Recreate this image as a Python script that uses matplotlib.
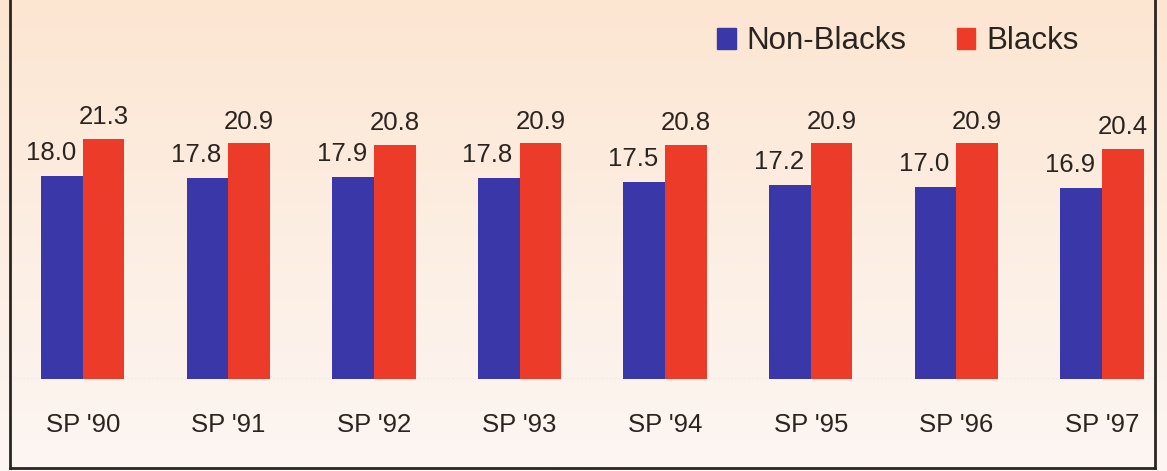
import numpy as np
import matplotlib.pyplot as plt
from matplotlib.lines import Line2D
from matplotlib.patches import Patch

# data
years = ["SP '90", "SP '91", "SP '92", "SP '93", "SP '94", "SP '95", "SP '96", "SP '97"]
non_blacks = [18.0, 17.8, 17.9, 17.8, 17.5, 17.2, 17.0, 16.9]
blacks = [21.3, 20.9, 20.8, 20.9, 20.8, 20.9, 20.9, 20.4]

blue = '#3a37a8'
red = '#ec3b28'
ink = '#2a2420'

plt.rcParams['font.family'] = ['Liberation Sans', 'DejaVu Sans']

W, H = 1167, 471
fig = plt.figure(figsize=(W / 100, H / 100), dpi=100)

# peach background, fading lighter toward the bottom
bg = fig.add_axes([0, 0, 1, 1])
top = np.array([253, 230, 210]) / 255
bot = np.array([252, 246, 243]) / 255
t = np.linspace(0, 1, 256)[:, None]
grad = top * (1 - t[..., None]) + bot * t[..., None]
bg.imshow(np.repeat(grad, 2, axis=1), aspect='auto', extent=[0, 1, 0, 1])
bg.axis('off')

# main axes: baseline at y=378.5px, 11.25 px per unit
base = 378.5
ax = fig.add_axes([10 / W, (H - base) / H, 1145 / W, base / H])
ax.patch.set_alpha(0)
x = np.arange(len(years))
w = 0.286
ax.bar(x - w / 2, non_blacks, w, color=blue, label='Non-Blacks')
ax.bar(x + w / 2, blacks, w, color=red, label='Blacks')
ax.set_xlim((10 - 82.7) / 145.6, (1155 - 82.7) / 145.6)
ax.set_ylim(0, base / 11.25)

for i in range(len(years)):
    ax.annotate(f'{non_blacks[i]:.1f}', (x[i], non_blacks[i]), xytext=(-5, 8),
                textcoords='offset points', ha='right', va='bottom',
                fontsize=18.5, color=ink)
    ax.annotate(f'{blacks[i]:.1f}', (x[i] + w / 2, blacks[i]), xytext=(0, 7),
                textcoords='offset points', ha='center', va='bottom',
                fontsize=18.5, color=ink)

ax.axhline(0, color='#c8c0bc', lw=1, ls=(0, (1, 2)), zorder=0)
ax.set_xticks(x)
ax.set_xticklabels(years, fontsize=18.5, color=ink)
ax.tick_params(axis='x', length=0, pad=25)
ax.set_yticks([])
for s in ax.spines.values():
    s.set_visible(False)

handles = [Patch(color=blue), Patch(color=red)]
ax.legend(handles, ['Non-Blacks', 'Blacks'], loc='upper right',
          bbox_to_anchor=(0.958, 1.005), ncol=2, frameon=False, fontsize=22.5,
          handlelength=0.6, handleheight=0.65, handletextpad=0.35,
          columnspacing=1.6, labelcolor=ink)

# outer frame: left, bottom, right
frame = dict(color='#2a2622', lw=2, transform=fig.transFigure)
fig.add_artist(Line2D([10 / W, 10 / W], [1, 3 / H], **frame))
fig.add_artist(Line2D([10 / W, 1155 / W], [3 / H, 3 / H], **frame))
fig.add_artist(Line2D([1155 / W, 1155 / W], [3 / H, 1], **frame))

fig.savefig('out.png', dpi=100)
